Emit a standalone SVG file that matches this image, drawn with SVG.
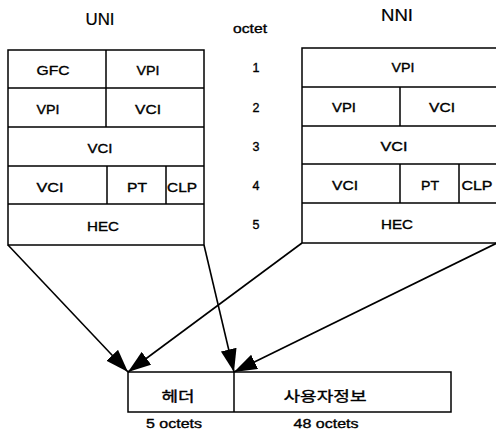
<svg xmlns="http://www.w3.org/2000/svg" width="496" height="431" viewBox="0 0 496 431">
<style>
.b{fill:none;stroke:#000;stroke-width:1.5}
.t{font-family:"Liberation Sans",Arial,sans-serif;font-size:12.5px;fill:#000;stroke:#000;stroke-width:0.35;text-anchor:middle}
.h{font-family:"Liberation Sans",Arial,sans-serif;font-size:16px;fill:#000;stroke:#000;stroke-width:0.2;text-anchor:middle}
.k{font-family:"Noto Sans CJK KR","Liberation Sans",sans-serif;font-size:14px;fill:#000;stroke:#000;stroke-width:0.35;text-anchor:middle}
.c{stroke:#000;stroke-width:1.6;fill:none}
</style>
<defs>
<marker id="ah" markerUnits="userSpaceOnUse" markerWidth="25" markerHeight="17" refX="23" refY="8" orient="auto">
<path d="M0,0 L23,8 L0,16 z" fill="#000"/>
</marker>
</defs>
<rect width="496" height="431" fill="#fff"/>

<g id="titles">
<text class="h" x="100" y="25" textLength="29" lengthAdjust="spacingAndGlyphs">UNI</text>
<text class="h" x="397" y="21" textLength="32" lengthAdjust="spacingAndGlyphs">NNI</text>
<text class="t" x="250" y="33" textLength="34" lengthAdjust="spacingAndGlyphs">octet</text>
</g>

<g id="octet-numbers">
<text class="t" x="256" y="72" font-size="13">1</text>
<text class="t" x="256" y="112" font-size="13">2</text>
<text class="t" x="256" y="151" font-size="13">3</text>
<text class="t" x="256" y="190" font-size="13">4</text>
<text class="t" x="256" y="229" font-size="13">5</text>
</g>

<g id="uni-header">
<rect class="b" x="8" y="50" width="196" height="195"/>
<path class="b" d="M8,88H204M8,127H204M8,166H204M8,204H204M106,50V127M107,166V204M166,166V204"/>
<text class="t" x="53" y="75" textLength="33" lengthAdjust="spacingAndGlyphs">GFC</text>
<text class="t" x="148" y="75" textLength="23" lengthAdjust="spacingAndGlyphs">VPI</text>
<text class="t" x="48" y="114" textLength="23" lengthAdjust="spacingAndGlyphs">VPI</text>
<text class="t" x="148" y="114" textLength="26" lengthAdjust="spacingAndGlyphs">VCI</text>
<text class="t" x="100" y="153" textLength="25" lengthAdjust="spacingAndGlyphs">VCI</text>
<text class="t" x="50" y="192" textLength="27" lengthAdjust="spacingAndGlyphs">VCI</text>
<text class="t" x="137" y="192" textLength="20" lengthAdjust="spacingAndGlyphs">PT</text>
<text class="t" x="182" y="192" textLength="30" lengthAdjust="spacingAndGlyphs">CLP</text>
<text class="t" x="103" y="231" textLength="32" lengthAdjust="spacingAndGlyphs">HEC</text>
</g>

<g id="nni-header">
<rect class="b" x="302" y="48" width="196" height="195"/>
<path class="b" d="M302,87H498M302,126H498M302,164H498M302,203H498M400,87V126M400,164V203M459,164V203"/>
<text class="t" x="403" y="72" textLength="23" lengthAdjust="spacingAndGlyphs">VPI</text>
<text class="t" x="344" y="112" textLength="24" lengthAdjust="spacingAndGlyphs">VPI</text>
<text class="t" x="442" y="112" textLength="26" lengthAdjust="spacingAndGlyphs">VCI</text>
<text class="t" x="394" y="151" textLength="27" lengthAdjust="spacingAndGlyphs">VCI</text>
<text class="t" x="345" y="190" textLength="26" lengthAdjust="spacingAndGlyphs">VCI</text>
<text class="t" x="430" y="190" textLength="18" lengthAdjust="spacingAndGlyphs">PT</text>
<text class="t" x="477" y="190" textLength="31" lengthAdjust="spacingAndGlyphs">CLP</text>
<text class="t" x="397" y="229" textLength="32" lengthAdjust="spacingAndGlyphs">HEC</text>
</g>

<g id="atm-cell">
<rect class="b" x="128" y="372" width="323" height="40"/>
<path class="b" d="M234,372V412"/>
<text class="k" x="178" y="401" textLength="33" lengthAdjust="spacingAndGlyphs">헤더</text>
<text class="k" x="325" y="401" textLength="83" lengthAdjust="spacingAndGlyphs">사용자정보</text>
<text class="t" x="174" y="428" font-size="13" textLength="56" lengthAdjust="spacingAndGlyphs">5 octets</text>
<text class="t" x="326" y="428" font-size="13" textLength="65" lengthAdjust="spacingAndGlyphs">48 octets</text>
</g>

<g id="connectors">
<line class="c" x1="8" y1="245" x2="128" y2="372" marker-end="url(#ah)"/>
<line class="c" x1="204" y1="245" x2="234" y2="372" marker-end="url(#ah)"/>
<line class="c" x1="302" y1="243" x2="128" y2="372" marker-end="url(#ah)"/>
<line class="c" x1="497" y1="243" x2="234" y2="372" marker-end="url(#ah)"/>
</g>
</svg>
